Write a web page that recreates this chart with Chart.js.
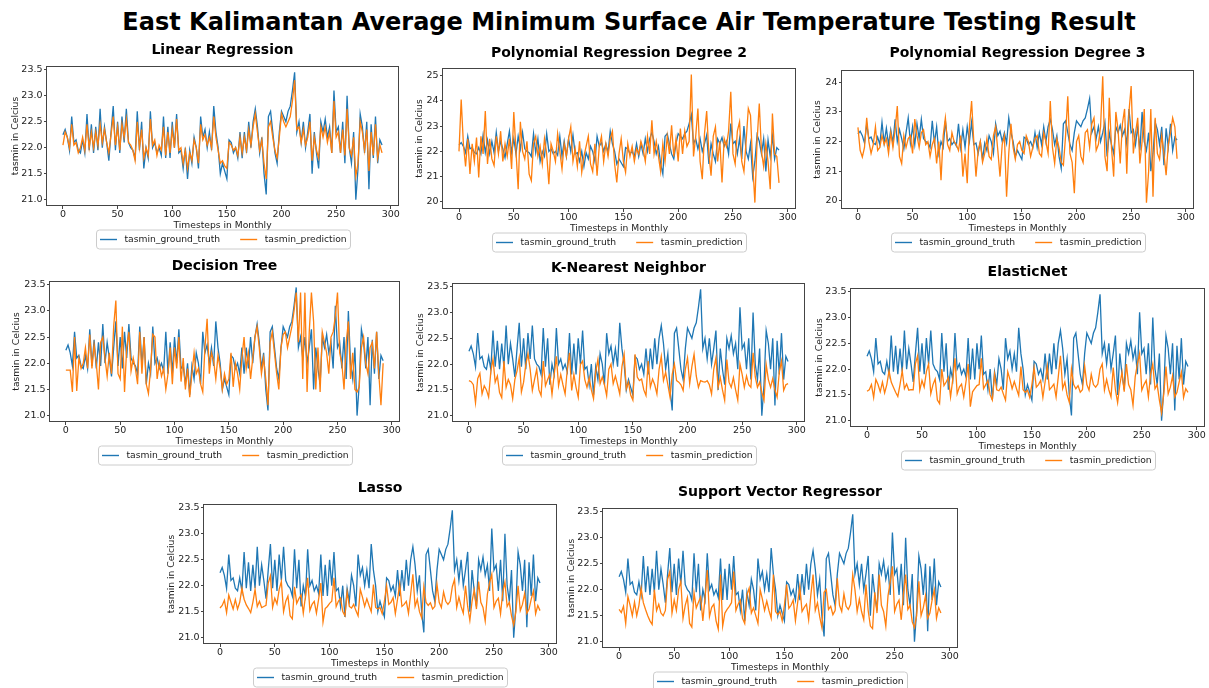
<!DOCTYPE html>
<html>
<head>
<meta charset="utf-8">
<script src="https://cdn.jsdelivr.net/npm/chart.js@4.4.1/dist/chart.umd.min.js"></script>
<style>
  body { margin: 0; background: #fff; width: 1209px; height: 688px; position: relative; overflow: hidden; }
  #main-title { position: absolute; top: 8px; left: 629px; transform: translateX(-50%); white-space: nowrap;
    font: bold 24px "DejaVu Sans", sans-serif; color: #000; line-height: 28px; }
</style>
</head>
<body>
<div id="main-title">East Kalimantan Average Minimum Surface Air Temperature Testing Result</div>
<script>
// test set: one value every 2 months (x axis = timestep)
const timesteps = [
  0, 2, 4, 6, 8, 10, 12, 14, 16, 18,
  20, 22, 24, 26, 28, 30, 32, 34, 36, 38,
  40, 42, 44, 46, 48, 50, 52, 54, 56, 58,
  60, 62, 64, 66, 68, 70, 72, 74, 76, 78,
  80, 82, 84, 86, 88, 90, 92, 94, 96, 98,
  100, 102, 104, 106, 108, 110, 112, 114, 116, 118,
  120, 122, 124, 126, 128, 130, 132, 134, 136, 138,
  140, 142, 144, 146, 148, 150, 152, 154, 156, 158,
  160, 162, 164, 166, 168, 170, 172, 174, 176, 178,
  180, 182, 184, 186, 188, 190, 192, 194, 196, 198,
  200, 202, 204, 206, 208, 210, 212, 214, 216, 218,
  220, 222, 224, 226, 228, 230, 232, 234, 236, 238,
  240, 242, 244, 246, 248, 250, 252, 254, 256, 258,
  260, 262, 264, 266, 268, 270, 272, 274, 276, 278,
  280, 282, 284, 286, 288, 290, 292
];

const groundTruth = [
  22.25, 22.35, 22.2, 21.95, 22.6, 22.1, 22.15, 21.95, 21.9, 22.15,
  21.9, 22.65, 21.95, 22.45, 21.9, 22.4, 21.95, 22.75, 22.0, 22.4,
  22.1, 21.75, 22.3, 22.8, 21.95, 22.5, 21.9, 22.6, 22.1, 22.75,
  22.1, 22.0, 21.95, 21.8, 22.7, 21.95, 22.5, 21.6, 22.0, 21.8,
  22.7, 22.0, 22.1, 21.9, 22.0, 21.85, 22.6, 21.8, 22.4, 21.8,
  22.5, 22.0, 22.65, 21.9, 21.95, 21.6, 22.0, 21.4, 21.95, 21.7,
  22.2, 22.0, 21.6, 22.6, 22.2, 22.35, 22.0, 22.3, 21.95, 22.8,
  22.3, 22.0, 21.5, 21.7, 21.55, 21.4, 22.15, 22.1, 21.9, 22.0,
  21.8, 22.3, 21.8, 22.3, 21.9, 22.5, 22.0, 22.5, 22.75, 22.4,
  21.9, 22.2, 21.5, 21.1, 22.6, 22.7, 22.3, 21.9, 21.7, 22.3,
  22.7, 22.6, 22.5, 22.7, 22.8, 23.1, 23.45, 22.3, 22.5, 22.1,
  22.5, 22.0, 22.3, 22.65, 21.5, 22.3, 21.9, 21.6, 22.5, 22.3,
  22.55, 22.2, 22.4, 21.9, 23.1, 22.3, 22.4, 21.9, 22.5, 21.7,
  23.0, 22.0, 21.7, 22.3, 21.0, 21.6, 22.65, 22.4, 21.9, 22.5,
  21.2, 22.45, 21.8, 22.6, 21.7, 22.15, 22.05
];

const linearPred = [
  22.05, 22.3, 22.2, 22.0, 22.45, 22.05, 22.1, 21.9, 22.0, 22.2,
  21.95, 22.45, 22.0, 22.3, 22.0, 22.3, 22.05, 22.45, 22.1, 22.35,
  22.1, 21.9, 22.25, 22.6, 22.05, 22.4, 21.95, 22.45, 22.2, 22.55,
  22.1, 22.05, 21.95, 21.75, 22.5, 22.0, 22.35, 21.8, 22.0, 21.85,
  22.55, 22.05, 22.15, 21.85, 22.05, 21.95, 22.4, 21.85, 22.3, 21.9,
  22.35, 22.0, 22.55, 21.95, 22.0, 21.7, 21.95, 21.6, 21.9, 21.75,
  22.15, 22.0, 21.7, 22.45, 22.15, 22.25, 22.05, 22.2, 22.0, 22.6,
  22.2, 21.95, 21.7, 21.75, 21.65, 21.6, 22.1, 22.05, 21.95, 22.0,
  21.85, 22.2, 21.9, 22.2, 21.95, 22.35, 22.05, 22.4, 22.65, 22.3,
  21.95, 22.15, 21.7, 21.4, 22.4, 22.5, 22.2, 21.95, 21.8, 22.2,
  22.65, 22.5, 22.4, 22.5, 22.6, 22.9, 23.3, 22.35, 22.4, 22.1,
  22.35, 22.05, 22.2, 22.5, 21.75, 22.2, 21.95, 21.8, 22.4, 22.2,
  22.4, 22.1, 22.3, 21.9, 22.9, 22.2, 22.3, 21.9, 22.35, 21.85,
  22.75, 22.0, 21.85, 22.2, 21.45, 21.7, 22.5, 22.3, 21.95, 22.35,
  21.55, 22.3, 21.85, 22.45, 21.8, 22.05, 21.9
];

const poly2Pred = [
  22.0, 24.05, 22.3, 21.4, 22.5, 21.1, 22.3, 21.6, 22.55, 20.97,
  22.6, 21.9, 23.6, 21.5, 22.5, 21.7, 21.44, 22.6, 21.9, 22.8,
  21.6, 22.3, 21.8, 22.5, 21.3, 23.56, 22.0, 20.5, 23.17, 22.0,
  21.7, 22.4, 21.1, 20.84, 22.3, 22.6, 21.8, 22.2, 21.5, 22.5,
  21.9, 20.7, 22.3, 22.0, 21.6, 22.7, 22.0, 21.3, 22.3, 21.8,
  22.5, 22.97, 21.6, 22.1, 21.4, 22.4, 21.17, 21.8, 22.2, 22.6,
  21.5, 21.2, 22.3, 21.04, 22.2, 22.6, 21.6, 22.3, 21.8, 22.5,
  22.8, 21.5, 20.77, 21.9, 22.5, 21.6, 21.17, 22.3, 21.8, 22.2,
  21.6, 22.1, 21.9, 22.4, 22.1, 21.6, 22.6, 21.9, 23.23, 21.9,
  22.4, 21.8, 21.2, 22.3, 21.6, 22.6, 21.9, 23.03, 21.8, 22.5,
  21.6, 22.9, 21.9, 22.8, 22.2, 22.4, 25.05, 21.8, 22.6, 23.7,
  21.6, 20.9, 22.7, 23.6, 21.9, 21.04, 22.6, 22.97, 21.6, 22.4,
  20.77, 22.5, 22.2, 22.8, 24.36, 21.9, 21.5, 22.8, 23.17, 21.6,
  21.2, 22.4, 23.7, 23.43, 21.5, 19.97, 22.4, 23.9, 22.0, 21.4,
  22.3, 21.6, 20.5, 23.5, 21.9, 21.8, 20.75
];

const poly3Pred = [
  22.48, 21.7, 21.48, 21.8, 22.8, 22.0, 21.6, 21.9, 22.5, 21.7,
  21.8, 22.2, 21.9, 22.1, 21.6, 22.3, 21.8, 22.4, 23.2, 21.5,
  21.26, 22.2, 21.8, 22.1, 22.2, 21.6, 22.76, 22.2, 21.8, 22.3,
  22.4, 21.9, 22.0, 21.5, 21.9, 22.1, 21.26, 22.0, 20.7, 22.2,
  22.8, 21.9, 21.7, 22.3, 22.0, 21.9, 21.7, 22.2, 20.82, 21.6,
  20.6, 22.5, 23.37, 22.0, 20.82, 21.7, 22.0, 21.3, 21.6, 22.1,
  21.5, 21.4, 22.2, 22.5, 21.7, 20.82, 21.9, 22.2, 20.14, 21.6,
  22.6, 21.8, 21.4, 21.9, 22.0, 21.7, 21.6, 22.2, 22.0, 21.5,
  21.8, 22.1, 22.2, 21.6, 21.5, 22.3, 22.0, 21.6, 23.37, 21.8,
  21.26, 22.1, 21.8, 21.3, 21.2, 22.2, 23.53, 21.6, 21.3, 20.26,
  22.0, 22.2, 21.5, 21.3, 22.3, 22.4, 21.8, 22.6, 22.8, 21.7,
  21.9, 22.5, 24.2, 21.5, 21.0, 23.48, 21.8, 20.82, 23.0, 22.4,
  21.26, 22.6, 23.1, 20.92, 23.0, 23.87, 21.6, 22.3, 22.8, 21.26,
  22.0, 23.1, 19.94, 21.0, 23.1, 20.14, 22.8, 21.6, 21.4, 22.2,
  21.6, 20.87, 21.9, 22.3, 22.8, 22.5, 21.42
];

const treePred = [
  21.87, 21.87, 21.87, 21.45, 22.5, 21.47, 22.1, 21.9, 22.0, 22.3,
  21.9, 22.55, 21.9, 22.35, 22.0, 21.5, 22.4, 22.5, 22.1, 21.75,
  22.2, 21.8, 22.7, 23.2, 21.8, 21.7, 22.7, 21.45, 22.3, 22.6,
  21.85, 22.1, 21.9, 21.6, 22.6, 21.8, 22.5, 21.6, 21.42, 21.9,
  22.55, 22.5, 21.7, 22.0, 21.75, 21.9, 21.5, 21.8, 22.3, 21.6,
  22.3, 21.9, 22.5, 21.65, 22.1, 21.5, 21.9, 21.35, 21.8, 22.2,
  21.8, 21.9, 21.6, 21.45, 22.3, 22.85, 21.8, 22.2, 22.05, 21.7,
  22.15, 21.9, 21.5, 21.8, 21.6, 21.7, 22.2, 21.55, 22.0, 21.8,
  21.5, 22.1, 22.5, 21.9, 22.2, 21.7, 22.1, 22.5, 22.7, 22.3,
  21.8, 22.1, 21.7, 21.2, 22.4, 22.6, 22.2, 21.8, 21.5, 22.3,
  22.55, 22.6, 22.3, 22.5, 22.7, 23.0, 23.35, 22.4, 23.35, 21.7,
  23.35, 21.45, 22.6, 23.35, 22.8, 21.5, 22.3, 21.45, 22.6, 22.4,
  22.2, 21.8, 22.5, 22.6, 22.9, 23.35, 22.2, 22.0, 21.5, 22.4,
  22.8, 21.7, 22.2, 21.5, 21.45, 21.55, 22.3, 22.5, 22.0, 21.8,
  22.3, 22.4, 21.9, 22.6, 21.8, 21.2, 22.0
];

const knnPred = [
  21.68, 21.66, 21.6, 21.25, 21.72, 21.82, 21.42, 21.58, 21.5, 21.36,
  21.85, 22.1, 21.65, 21.77, 21.45, 21.35, 22.06, 21.55, 21.7, 21.6,
  21.33, 21.7, 21.87, 22.12, 21.46, 21.65, 21.99, 22.2, 21.9, 21.49,
  21.7, 21.9, 21.5, 21.39, 22.06, 21.58, 21.7, 21.8, 21.41, 21.8,
  22.15, 21.58, 21.8, 21.6, 21.42, 21.9, 22.22, 21.49, 21.8, 21.55,
  21.36, 21.99, 22.06, 21.7, 21.55, 21.74, 21.5, 21.33, 21.85, 22.09,
  21.62, 21.75, 21.6, 21.39, 21.9, 22.0, 21.62, 21.77, 21.6, 21.42,
  21.95, 22.19, 21.52, 21.65, 21.4, 21.3, 22.19, 21.75, 21.68, 21.71,
  21.5, 21.39, 22.06, 21.55, 21.71, 21.6, 21.42, 21.9, 22.15, 21.68,
  21.84, 21.6, 21.36, 21.8, 22.0, 21.68, 21.65, 21.6, 21.49, 21.9,
  22.12, 21.62, 21.95, 22.19, 21.77, 21.55, 21.68, 21.66, 21.65, 21.68,
  21.6, 21.42, 21.9, 22.12, 21.55, 21.74, 21.5, 21.3, 22.09, 21.65,
  21.55, 21.74, 21.5, 21.3, 22.0, 21.8, 21.55, 21.77, 21.6, 21.55,
  22.22, 21.75, 21.55, 21.65, 21.45, 21.3, 21.99, 21.7, 21.55, 21.72,
  21.5, 21.36, 21.85, 22.06, 21.49, 21.6, 21.62
];

const elasticPred = [
  21.57, 21.6, 21.7, 21.45, 21.8, 21.7, 21.56, 21.75, 21.54, 21.7,
  21.97, 21.75, 21.65, 21.55, 21.47, 21.7, 21.97, 21.62, 21.71, 21.59,
  21.6, 21.6, 22.1, 22.26, 21.59, 21.78, 21.65, 21.95, 22.1, 21.52,
  21.7, 21.81, 21.4, 21.33, 22.0, 21.68, 21.75, 21.84, 21.46, 21.8,
  22.21, 21.52, 21.65, 21.71, 21.46, 21.75, 22.1, 21.27, 21.56, 21.62,
  21.68, 21.7, 22.21, 21.62, 21.7, 21.78, 21.5, 21.4, 21.9, 21.6,
  21.58, 21.65, 21.52, 21.4, 21.95, 21.8, 21.62, 21.76, 21.62, 21.49,
  22.05, 21.6, 21.55, 21.59, 21.45, 21.7, 22.03, 21.65, 21.7, 21.78,
  21.45, 21.75, 22.06, 21.6, 21.65, 21.71, 21.46, 21.85, 22.26, 21.62,
  21.75, 21.5, 21.36, 22.0, 21.7, 21.62, 21.68, 21.55, 21.6, 22.06,
  21.7, 21.59, 21.9, 21.7, 21.65, 21.71, 22.0, 22.1, 21.59, 21.8,
  21.6, 21.46, 22.03, 21.6, 21.35, 21.7, 21.94, 21.56, 22.1, 21.7,
  21.6, 21.3, 21.85, 22.1, 22.3, 21.59, 21.7, 21.78, 21.46, 21.9,
  22.1, 21.62, 21.7, 21.4, 21.15, 21.52, 22.05, 21.52, 21.65, 21.87,
  21.46, 21.55, 21.75, 21.94, 21.45, 21.62, 21.55
];

const lassoPred = [
  21.57, 21.62, 21.72, 21.48, 21.82, 21.68, 21.55, 21.73, 21.55, 21.68,
  21.95, 21.74, 21.63, 21.56, 21.48, 21.68, 21.93, 21.6, 21.7, 21.58,
  21.6, 21.62, 22.05, 22.19, 21.58, 21.76, 21.65, 21.93, 22.08, 21.5,
  21.7, 21.8, 21.42, 21.36, 21.98, 21.66, 21.75, 21.82, 21.47, 21.8,
  22.15, 21.52, 21.64, 21.7, 21.47, 21.74, 22.05, 21.3, 21.56, 21.6,
  21.66, 21.7, 22.15, 21.6, 21.7, 21.76, 21.5, 21.42, 21.88, 21.6,
  21.57, 21.64, 21.52, 21.42, 21.93, 21.78, 21.6, 21.75, 21.62, 21.5,
  22.02, 21.58, 21.55, 21.58, 21.46, 21.7, 22.0, 21.64, 21.68, 21.77,
  21.46, 21.74, 22.03, 21.6, 21.64, 21.7, 21.47, 21.84, 22.22, 21.6,
  21.74, 21.5, 21.38, 21.98, 21.68, 21.62, 21.67, 21.55, 21.6, 22.03,
  21.68, 21.58, 21.88, 21.7, 21.64, 21.7, 21.98, 22.12, 21.58, 21.78,
  21.6, 21.47, 22.0, 21.6, 21.33, 21.7, 21.92, 21.55, 22.08, 21.68,
  21.58, 21.32, 21.84, 22.06, 22.22, 21.58, 21.7, 21.76, 21.46, 21.88,
  22.07, 21.6, 21.68, 21.42, 21.24, 21.5, 22.0, 21.52, 21.64, 21.85,
  21.47, 21.55, 21.74, 21.9, 21.46, 21.62, 21.52
];

const svrPred = [
  21.62, 21.56, 21.68, 21.35, 21.87, 21.7, 21.5, 21.76, 21.5, 21.7,
  22.03, 21.75, 21.62, 21.5, 21.4, 21.33, 22.0, 21.6, 21.72, 21.55,
  21.5, 21.6, 22.2, 22.35, 21.55, 21.8, 21.6, 22.0, 22.16, 21.45,
  21.7, 21.85, 21.35, 21.28, 21.94, 21.65, 21.76, 21.86, 21.4, 21.85,
  22.38, 21.48, 21.66, 21.72, 21.4, 21.24, 22.29, 21.3, 21.55, 21.62,
  21.68, 21.75, 22.35, 21.6, 21.72, 21.8, 21.45, 21.35, 21.9, 22.03,
  21.55, 21.65, 21.5, 21.35, 22.0, 21.82, 21.6, 21.78, 21.6, 21.45,
  22.29, 21.58, 21.52, 21.58, 21.4, 21.7, 22.1, 21.64, 21.7, 21.8,
  21.4, 21.75, 22.06, 21.58, 21.66, 21.72, 21.42, 21.9, 22.29, 21.6,
  21.75, 21.48, 21.27, 21.95, 22.0, 21.62, 21.68, 21.52, 21.6, 22.22,
  21.7, 21.58, 21.92, 21.68, 21.62, 21.72, 22.29, 22.0, 21.58, 21.82,
  21.58, 21.42, 22.1, 21.6, 21.3, 21.25, 21.95, 21.55, 22.29, 21.7,
  21.58, 21.3, 21.88, 22.15, 22.45, 21.58, 21.72, 21.8, 21.42, 21.92,
  22.29, 21.62, 21.7, 21.38, 21.27, 21.5, 22.16, 21.5, 21.65, 21.88,
  21.45, 21.55, 21.8, 22.0, 21.45, 21.65, 21.55
];

const xTicks = [0, 50, 100, 150, 200, 250, 300];
const yTicksHalf = [21.0, 21.5, 22.0, 22.5, 23.0, 23.5];
const yTicksPoly2 = [20, 21, 22, 23, 24, 25];
const yTicksPoly3 = [20, 21, 22, 23, 24];
const seriesNames = ['tasmin_ground_truth', 'tasmin_prediction'];
const xLabel = 'Timesteps in Monthly';
const yLabel = 'tasmin in Celcius';

// where each subplot sits on the page (axes box in px)
const panels = [
  { title: 'Linear Regression', pred: linearPred, yTicks: yTicksHalf, digits: 1, L: 47, T: 66, R: 398, B: 206, titleY: 50, yTitleX: 31.7 },
  { title: 'Polynomial Regression Degree 2', pred: poly2Pred, yTicks: yTicksPoly2, digits: 0, L: 443, T: 68, R: 795, B: 209, titleY: 53, yTitleX: 23.3 },
  { title: 'Polynomial Regression Degree 3', pred: poly3Pred, yTicks: yTicksPoly3, digits: 0, L: 842, T: 70, R: 1193, B: 209, titleY: 53, yTitleX: 24.4 },
  { title: 'Decision Tree', pred: treePred, yTicks: yTicksHalf, digits: 1, L: 50, T: 281, R: 399, B: 422, titleY: 266, yTitleX: 33.3 },
  { title: 'K-Nearest Neighbor', pred: knnPred, yTicks: yTicksHalf, digits: 1, L: 453, T: 283, R: 804, B: 422, titleY: 268, yTitleX: 32.3 },
  { title: 'ElasticNet', pred: elasticPred, yTicks: yTicksHalf, digits: 1, L: 851, T: 288, R: 1204, B: 427, titleY: 272, yTitleX: 31 },
  { title: 'Lasso', pred: lassoPred, yTicks: yTicksHalf, digits: 1, L: 204, T: 504, R: 556, B: 644, titleY: 488, yTitleX: 32 },
  { title: 'Support Vector Regressor', pred: svrPred, yTicks: yTicksHalf, digits: 1, L: 603, T: 508, R: 957, B: 648, titleY: 492, yTitleX: 31 }
];

const FONT = '"DejaVu Sans", sans-serif';
const Y_AXIS_W = 40, X_AXIS_H = 25, LEGEND_SPACE = 19;

// matplotlib-like frame around the axes and a boxed legend under the x label
const mplLook = {
  id: 'mplLook',
  afterDatasetsDraw(chart) {
    const { ctx, chartArea: a } = chart;
    ctx.save();
    ctx.strokeStyle = '#444';
    ctx.lineWidth = 1;
    ctx.strokeRect(Math.round(a.left) - 0.5, Math.round(a.top) + 0.5,
      Math.round(a.right - a.left) + 1, Math.round(a.bottom - a.top) - 1);
    ctx.restore();
  },
  afterDraw(chart) {
    const { ctx, chartArea: a } = chart;
    const ds = chart.data.datasets;
    ctx.save();
    ctx.font = '9.2px ' + FONT;
    const lineLen = 17, gap = 7.5, itemGap = 20, padX = 3.5, h = 19;
    const widths = ds.map(d => ctx.measureText(d.label).width);
    let total = padX * 2 + itemGap * (ds.length - 1);
    widths.forEach(w => { total += lineLen + gap + w; });
    const cx = (a.left + a.right) / 2;
    const cy = Math.round(a.bottom + 32.5) + 0.5;
    let x = Math.round(cx - total / 2) + 0.5;
    ctx.beginPath();
    ctx.roundRect(x, cy - h / 2, Math.round(total), h, 3);
    ctx.fillStyle = 'rgba(255,255,255,0.8)';
    ctx.fill();
    ctx.strokeStyle = '#cccccc';
    ctx.lineWidth = 1;
    ctx.stroke();
    x += padX;
    ds.forEach((d, i) => {
      ctx.beginPath();
      ctx.moveTo(x, cy);
      ctx.lineTo(x + lineLen, cy);
      ctx.strokeStyle = d.borderColor;
      ctx.lineWidth = 1.4;
      ctx.stroke();
      ctx.fillStyle = '#222';
      ctx.textBaseline = 'middle';
      ctx.textAlign = 'left';
      ctx.fillText(d.label, x + lineLen + gap, cy);
      x += lineLen + gap + widths[i] + itemGap;
    });
    ctx.restore();
  }
};

panels.forEach(p => {
  const padR = Math.min(8, 1209 - p.R);
  const left = p.L - Y_AXIS_W;
  const top = p.titleY - 10;
  const w = p.R - p.L + Y_AXIS_W + padR;
  const h = p.B - top + X_AXIS_H + LEGEND_SPACE;

  const canvas = document.createElement('canvas');
  canvas.width = w;
  canvas.height = h;
  canvas.style.cssText = `position:absolute;left:${left}px;top:${top}px;width:${w}px;height:${h}px`;
  document.body.appendChild(canvas);

  const all = groundTruth.concat(p.pred);
  const lo = Math.min(...all), hi = Math.max(...all);
  const margin = (hi - lo) * 0.05;

  const tickGrid = { display: true, drawOnChartArea: false, drawTicks: true, tickLength: 3, color: '#444', lineWidth: 1 };

  new Chart(canvas, {
    type: 'line',
    data: {
      labels: timesteps,
      datasets: [
        { label: seriesNames[0], data: groundTruth, borderColor: '#1f77b4', borderWidth: 1.3, pointRadius: 0, tension: 0, order: 2 },
        { label: seriesNames[1], data: p.pred, borderColor: '#ff7f0e', borderWidth: 1.3, pointRadius: 0, tension: 0, order: 1 }
      ]
    },
    options: {
      responsive: false,
      maintainAspectRatio: false,
      animation: false,
      events: [],
      layout: { padding: { left: 0, right: padR, top: 0, bottom: LEGEND_SPACE } },
      plugins: {
        legend: { display: false },
        tooltip: { enabled: false },
        title: {
          display: true,
          text: p.title,
          fullSize: false,
          color: '#000',
          font: { family: FONT, size: 14, weight: 'bold' },
          padding: { top: 1.6, bottom: p.T - p.titleY - 8.4 }
        }
      },
      scales: {
        x: {
          type: 'linear',
          min: -14.6,
          max: 306.6,
          afterBuildTicks: s => { s.ticks = xTicks.map(v => ({ value: v })); },
          afterFit: s => { s.height = X_AXIS_H; },
          ticks: { color: '#222', font: { family: FONT, size: 9.5, lineHeight: 1 }, padding: 1, maxRotation: 0, autoSkip: false, callback: v => String(v) },
          grid: tickGrid,
          border: { display: false },
          title: { display: true, text: xLabel, color: '#222', font: { family: FONT, size: 9.2 }, padding: 0 }
        },
        y: {
          type: 'linear',
          min: lo - margin,
          max: hi + margin,
          afterBuildTicks: s => { s.ticks = p.yTicks.map(v => ({ value: v })); },
          afterFit: s => { s.width = Y_AXIS_W; },
          ticks: { color: '#222', font: { family: FONT, size: 9.5 }, padding: 1.5, autoSkip: false, callback: v => v.toFixed(p.digits) },
          grid: tickGrid,
          border: { display: false },
          title: { display: true, text: yLabel, color: '#222', font: { family: FONT, size: 9.2 }, padding: { top: Y_AXIS_W - p.yTitleX - 5.5, bottom: 0 } }
        }
      }
    },
    plugins: [mplLook]
  });
});
</script>
</body>
</html>
